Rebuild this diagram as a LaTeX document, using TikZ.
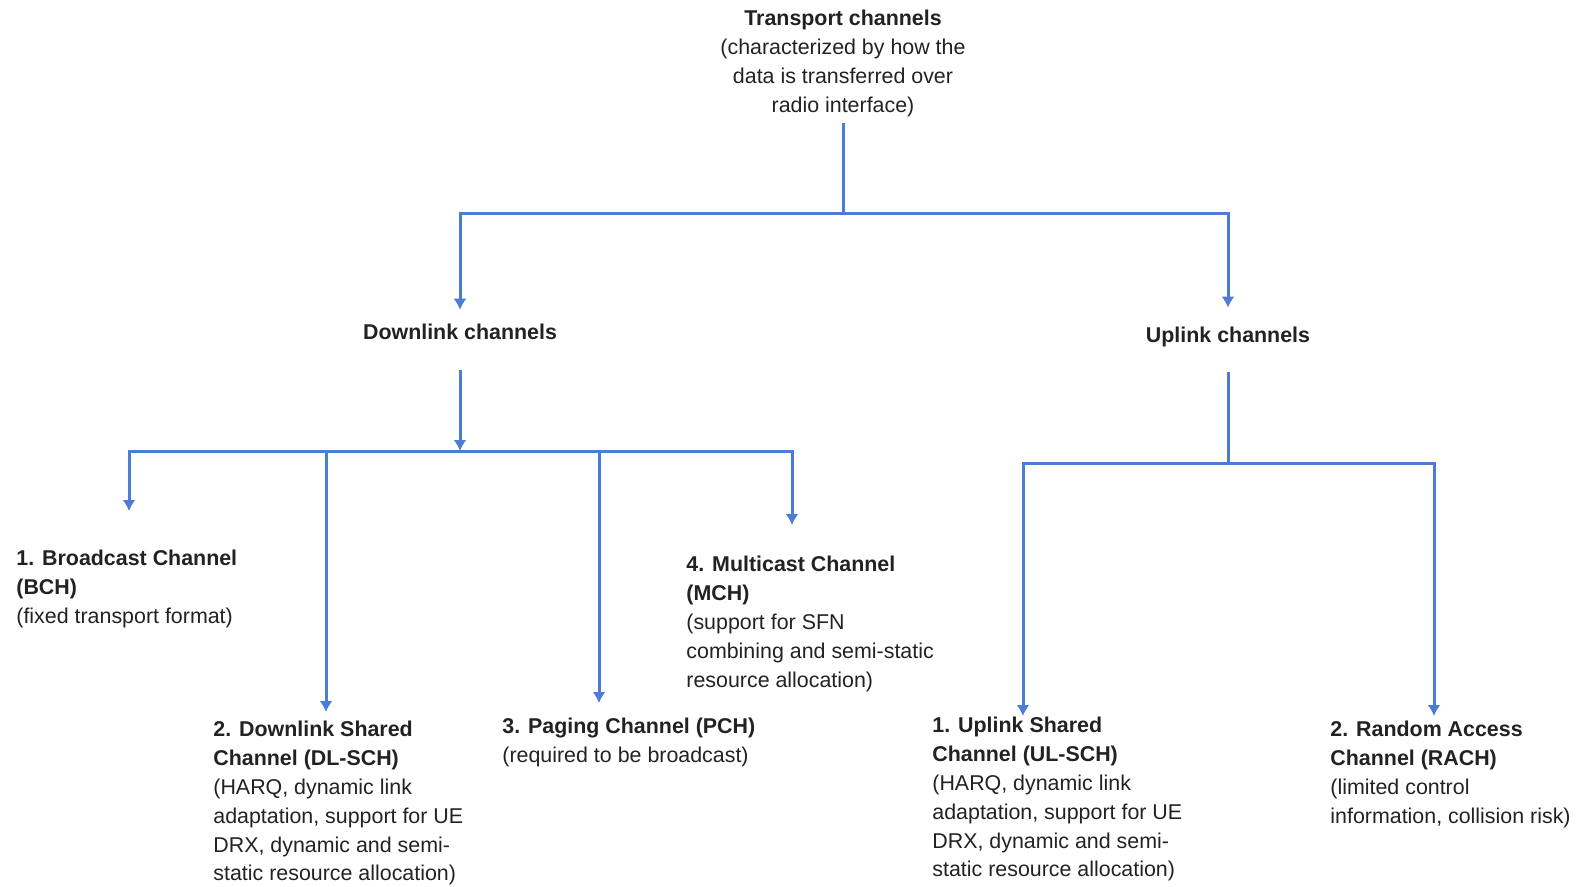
\documentclass[tikz,border=0pt]{standalone}
\usepackage{fontspec}
\setmainfont{Liberation Sans}
\usetikzlibrary{positioning}
\usetikzlibrary{arrows.meta}
\definecolor{chblue}{RGB}{77,124,212}
\definecolor{chtext}{RGB}{34,34,34}

\begin{document}
\begin{tikzpicture}[x=0.5pt,y=-0.5pt,
  font=\fontsize{10.7}{14.4}\selectfont, text=chtext,
  lnk/.style={draw=chblue, line width=1.5pt},
  arr/.style={lnk, -{Latex[length=5.5pt,width=6.5pt]}},
  head/.style={inner sep=0pt, align=center},
  leaf/.style={inner sep=0pt, align=left, anchor=north west}]
\useasboundingbox (0,0) rectangle (1582,887);

% headings
\node [head, anchor=north] (tc) at (843,10) {\textbf{Transport channels}\\(characterized by how the\\data is transferred over\\radio interface)};
\node [head] (dl) at (460,332) {\textbf{Downlink channels}};
\node [head] (ul) at (1228,337) {\textbf{Uplink channels}};

% downlink leaves
\node [leaf] (bch) at (16,550) {\textbf{1. Broadcast Channel}\\\textbf{(BCH)}\\(fixed transport format)};
\node [leaf] (dlsch) at (213,721) {\textbf{2. Downlink Shared}\\\textbf{Channel (DL-SCH)}\\(HARQ, dynamic link\\adaptation, support for UE\\DRX, dynamic and semi-\\static resource allocation)};
\node [leaf] (pch) at (502,718) {\textbf{3. Paging Channel (PCH)}\\(required to be broadcast)};
\node [leaf] (mch) at (686,556) {\textbf{4. Multicast Channel}\\\textbf{(MCH)}\\(support for SFN\\combining and semi-static\\resource allocation)};

% uplink leaves
\node [leaf] (ulsch) at (932,717) {\textbf{1. Uplink Shared}\\\textbf{Channel (UL-SCH)}\\(HARQ, dynamic link\\adaptation, support for UE\\DRX, dynamic and semi-\\static resource allocation)};
\node [leaf] (rach) at (1330,721) {\textbf{2. Random Access}\\\textbf{Channel (RACH)}\\(limited control\\information, collision risk)};

% junctions and arrow ends
\coordinate (tj) at (843,214);
\coordinate (dlj) at (460,451);
\coordinate (ulj) at (1228,463);
\coordinate (bchtip) at (129,511);
\coordinate (dlschtip) at (326,712);
\coordinate (pchtip) at (599,703);
\coordinate (mchtip) at (792,525);
\coordinate (ulschtip) at (1023,716);
\coordinate (rachtip) at (1434,716);

\draw [lnk, shorten <=3pt] (tc.south) -- (tj);
\draw [arr, shorten >=7pt] (tj) -| (dl.north);
\draw [arr, shorten >=9.5pt] (tj) -| (ul.north);

\draw [arr, shorten <=15pt] (dl.south) -- (dlj);
\draw [arr] (dlj) -| (bchtip);
\draw [arr] (dlj) -| (dlschtip);
\draw [arr] (dlj) -| (pchtip);
\draw [arr] (dlj) -| (mchtip);

\draw [lnk, shorten <=12.5pt] (ul.south) -- (ulj);
\draw [arr] (ulj) -| (ulschtip);
\draw [arr] (ulj) -| (rachtip);

\end{tikzpicture}
\end{document}
